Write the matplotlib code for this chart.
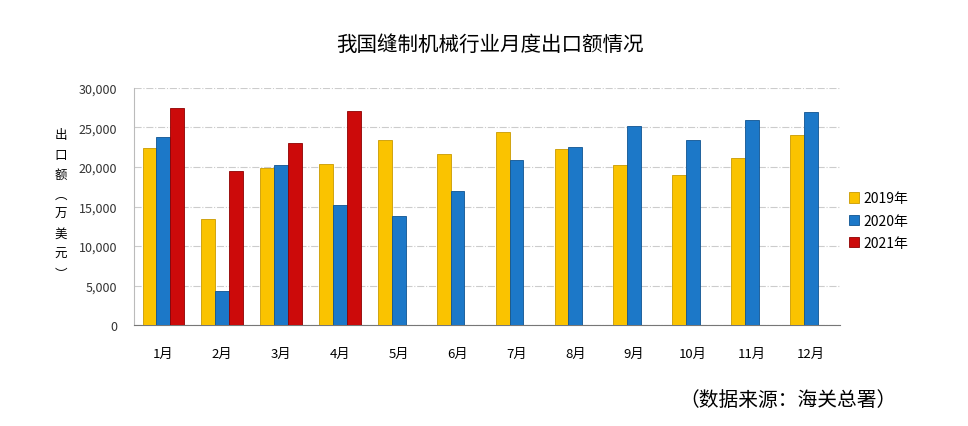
import matplotlib
matplotlib.use('Agg')
import matplotlib.pyplot as plt
import numpy as np
from matplotlib.ticker import FuncFormatter

plt.rcParams['font.family'] = ['Noto Sans CJK SC', 'DejaVu Sans']

months = ['1月', '2月', '3月', '4月', '5月', '6月', '7月', '8月', '9月', '10月', '11月', '12月']
y2019 = [22400, 13400, 19900, 20400, 23400, 21600, 24400, 22300, 20200, 19000, 21100, 24000]
y2020 = [23800, 4300, 20200, 15200, 13800, 17000, 20900, 22500, 25200, 23400, 25900, 27000]
y2021 = [27500, 19500, 23000, 27100, np.nan, np.nan, np.nan, np.nan, np.nan, np.nan, np.nan, np.nan]

series = [('2019年', y2019, '#FAC300', '#C99A00'),
          ('2020年', y2020, '#1C78C8', '#0F5391'),
          ('2021年', y2021, '#CC0A0A', '#8E0000')]

fig = plt.figure(figsize=(9.68, 4.27), dpi=100)
ax = fig.add_axes([0.1384, 0.2365, 0.7294, 0.5551])

x = np.arange(len(months))
w = 0.235
for i, (name, vals, col, edge) in enumerate(series):
    ax.bar(x + (i - 1) * w, vals, w, color=col, edgecolor=edge, linewidth=0.6,
           label=name, zorder=3)

ax.set_xlim(-0.5, len(months) - 0.5)
ax.set_ylim(0, 30000)
ax.set_yticks(range(0, 30001, 5000))
ax.yaxis.set_major_formatter(FuncFormatter(lambda v, p: f'{int(v):,}'))
ax.set_xticks(x)
ax.set_xticklabels(months, fontsize=9.5)
ax.tick_params(axis='x', length=0, pad=16)
ax.tick_params(axis='y', length=0, labelsize=9, pad=12, colors='#333333')

ax.grid(axis='y', color='#cccccc', linestyle='-.', linewidth=0.8, zorder=0)
for s in ['top', 'right']:
    ax.spines[s].set_visible(False)
ax.spines['left'].set_color('#bbbbbb')
ax.spines['bottom'].set_color('#777777')

fig.text(0.506, 0.894, '我国缝制机械行业月度出口额情况', ha='center', va='center', fontsize=14.8)
fig.text(0.063, 0.52, '出\n口\n额\n︵\n万\n美\n元\n︶', ha='center', va='center',
         fontsize=9, linespacing=1.68)
fig.text(0.814, 0.063, '（数据来源：海关总署）', ha='center', va='center', fontsize=14.2)

ax.legend(loc='center left', bbox_to_anchor=(0.995, 0.44), frameon=False, fontsize=10,
          handlelength=0.75, handleheight=0.75, handletextpad=0.3, labelspacing=0.6)

fig.savefig('out.png', dpi=100)
